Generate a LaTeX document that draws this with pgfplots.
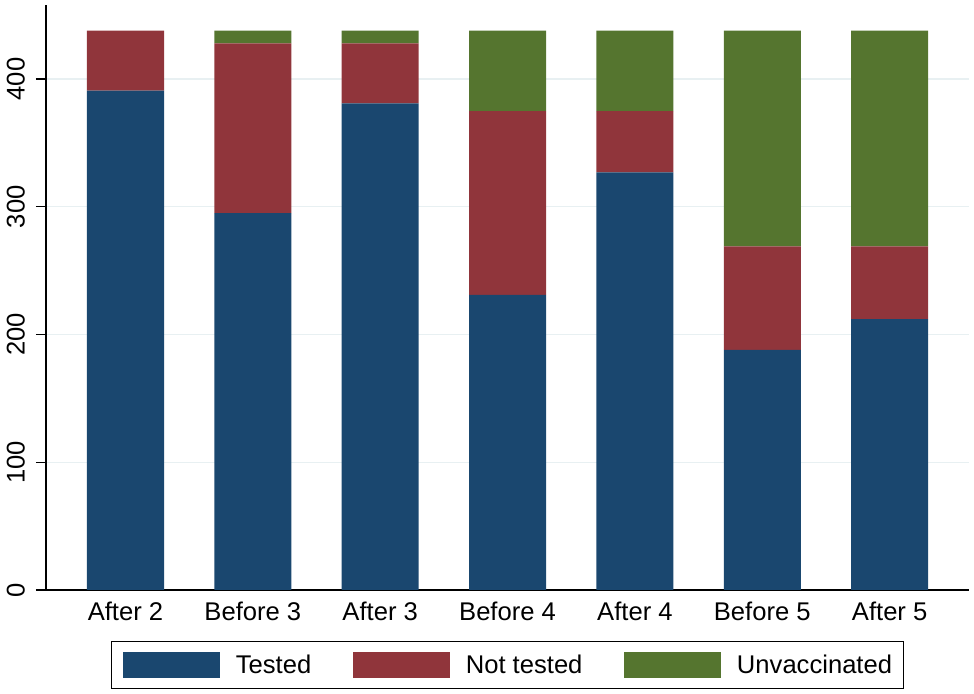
\documentclass[border=0pt]{standalone}
\usepackage{pgfplots}
\pgfplotsset{compat=1.18}
\usepackage{fontspec}
\setmainfont{Liberation Sans}
\definecolor{stnavy}{RGB}{26,71,111}
\definecolor{stmaroon}{RGB}{144,53,59}
\definecolor{stgreen}{RGB}{85,117,47}
\definecolor{gridc}{RGB}{232,240,242}
\begin{document}
\begin{tikzpicture}
\begin{axis}[
  scale only axis, width=923pt, height=585pt,
  ybar stacked, bar width=0.605,
  xmin=-0.624, xmax=6.623, ymin=0, ymax=458,
  axis lines*=left,
  axis line style={line width=1.3pt, black},
  xtick={0,...,6},
  xticklabels={After 2,Before 3,After 3,Before 4,After 4,Before 5,After 5},
  x tick style={draw=none},
  ytick={0,100,...,400},
  y tick style={line width=1.3pt, black},
  tick align=outside, major tick length=10pt,
  ymajorgrids, grid style={gridc, line width=1.3pt},
  tick label style={font=\fontsize{25.6}{30}\selectfont},
  /pgf/number format/assume math mode=true,
  yticklabel style={font=\fontsize{25.6}{30}\selectfont, xshift=-11pt, rotate=90, anchor=south, inner sep=0pt},
  xticklabel style={inner sep=0pt, anchor=north, yshift=-2pt},
  legend columns=3,
  legend image code/.code={\fill[#1] (0pt,-13pt) rectangle (97pt,13pt);},
  legend style={at={(0.5,-0.0872)}, anchor=north, draw=black, line width=1pt,
    inner xsep=11pt, inner ysep=10.5pt,
    font=\fontsize{25.6}{30}\selectfont,
    nodes={inner sep=0pt},
    /tikz/every odd column/.append style={column sep=16pt},
    /tikz/every even column/.append style={column sep=41.5pt}},
]
\addplot[fill=stnavy, draw=none] coordinates {(0,391) (1,295) (2,381) (3,231) (4,327) (5,188) (6,212)};
\addplot[fill=stmaroon, draw=none] coordinates {(0,47) (1,133) (2,47) (3,144) (4,48) (5,81) (6,57)};
\addplot[fill=stgreen, draw=none] coordinates {(0,0) (1,10) (2,10) (3,63) (4,63) (5,169) (6,169)};
\legend{Tested,Not tested,Unvaccinated\hspace{4pt}}
\coordinate (ll) at (rel axis cs:0,0);
\coordinate (ur) at (rel axis cs:1,1);
\end{axis}
\pgfresetboundingbox
\path ([xshift=-46pt,yshift=-104pt]ll) rectangle ([xshift=5pt,yshift=5pt]ur);
\end{tikzpicture}
\end{document}
